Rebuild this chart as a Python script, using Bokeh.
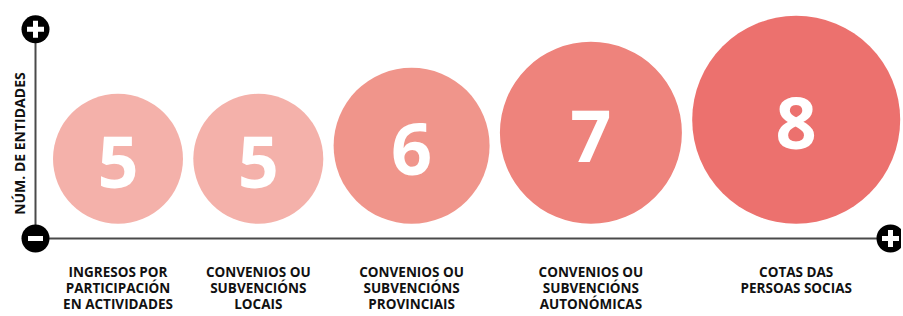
import math
from bokeh.plotting import figure
from bokeh.models import Range1d, ColumnDataSource
from bokeh.embed import file_html
from bokeh.resources import INLINE
from bokeh.core.properties import value

# ---- data ----
categories = [
    "INGRESOS POR\nPARTICIPACIÓN\nEN ACTIVIDADES",
    "CONVENIOS OU\nSUBVENCIÓNS\nLOCAIS",
    "CONVENIOS OU\nSUBVENCIÓNS\nPROVINCIAIS",
    "CONVENIOS OU\nSUBVENCIÓNS\nAUTONÓMICAS",
    "COTAS DAS\nPERSOAS SOCIAS",
]
counts = [5, 5, 6, 7, 8]
y_title = "NÚM. DE ENTIDADES"

# ---- style / layout ----
colors = ["#F4B1AA", "#F4B1AA", "#F0958B", "#EE837C", "#EC716E"]
W, H = 901, 314
YSPAN = 316.0
KY = H / YSPAN
PX_PER_UNIT = 13.0   # circle radius (px) per entity
GAP = 10.3           # gap between circles
LEFT = 52.5          # left edge of first circle
BASE = 224.7         # bottom of circles
AXIS_X = 35
AXIS_Y = 239.5
TOP_Y = 29
RIGHT_X = 890
FONT = value("Open Sans")
LINE_COLOR = "#4a4a4a"

radii = [PX_PER_UNIT * c for c in counts]
xs = []
edge = LEFT
for r in radii:
    xs.append(edge + r)
    edge += 2 * r + GAP
ys = [BASE - r / KY for r in radii]

src = ColumnDataSource(dict(
    x=xs, y=ys, size=[2 * r for r in radii], color=colors,
    num=[str(c) for c in counts], num_y=[y + 3 for y in ys],
))

p = figure(width=W, height=H, x_range=Range1d(0, W), y_range=Range1d(YSPAN, 0),
           output_backend="svg", toolbar_location=None, min_border=0,
           x_axis_location=None, y_axis_location=None)
p.grid.visible = False
p.outline_line_color = None
p.background_fill_color = "white"
p.border_fill_color = "white"

# axis lines
p.line([AXIS_X, AXIS_X], [TOP_Y, AXIS_Y], line_color=LINE_COLOR, line_width=2)
p.line([AXIS_X, RIGHT_X], [AXIS_Y, AXIS_Y], line_color=LINE_COLOR, line_width=2)

# bubbles
p.scatter("x", "y", size="size", marker="circle", fill_color="color", line_color=None, source=src)
p.text("x", "num_y", text="num", source=src, text_font=FONT, text_font_style="bold",
       text_font_size="72px", text_color="white", text_align="center", text_baseline="middle")

# category labels
lx, ly, lt = [], [], []
for x, lab in zip(xs, categories):
    for i, line in enumerate(lab.split("\n")):
        lx.append(x)
        ly.append(273.5 + 16.0 * i)
        lt.append(line)
p.text(lx, ly, text=lt, text_font=FONT, text_font_style="bold", text_font_size="13.5px",
       text_color="#111111", text_align="center", text_baseline="middle")

# y title
p.text([18.5], [144], text=[y_title], angle=math.pi / 2, text_font=FONT, text_font_style="bold",
       text_font_size="14px", text_color="#111111", text_align="center", text_baseline="middle")

# +/- icons
p.scatter([AXIS_X, AXIS_X, RIGHT_X], [TOP_Y, AXIS_Y, AXIS_Y], size=28, marker="circle",
          fill_color="black", line_color=None)
p.scatter([AXIS_X, RIGHT_X], [TOP_Y, AXIS_Y], size=17, marker="cross", line_color="white", line_width=5)
p.scatter([AXIS_X], [AXIS_Y], size=15, marker="dash", line_color="white", line_width=5)

open("out.html", "w").write(file_html(p, INLINE))
